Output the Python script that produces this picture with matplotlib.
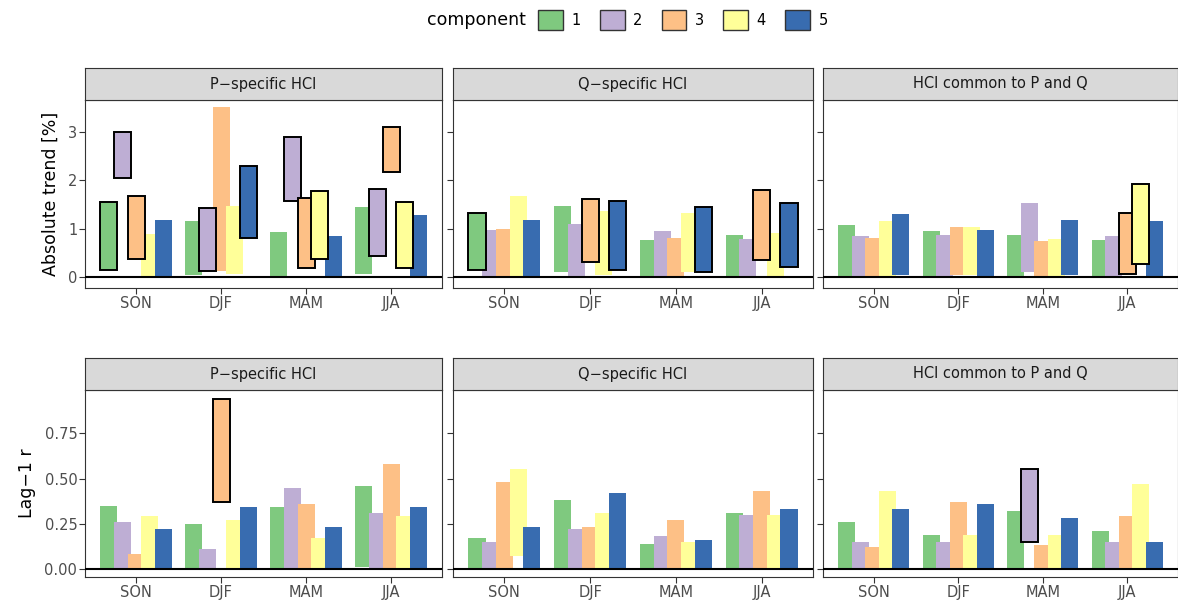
import numpy as np
import matplotlib.pyplot as plt
from matplotlib.patches import Patch

seasons = ['SON', 'DJF', 'MAM', 'JJA']
panels = ['P\u2212specific HCI', 'Q\u2212specific HCI', 'HCI common to P and Q']
components = ['1', '2', '3', '4', '5']
colors = ['#7fc97f', '#beaed4', '#fdc086', '#ffff99', '#386cb0']

# [panel][season][component] = (low, high, significant)
trend = [
    [[(0.15, 1.56, 1), (2.05, 3.0, 1), (0.38, 1.68, 1), (0.03, 0.9, 0), (0.03, 1.17, 0)],
     [(0.04, 1.16, 0), (0.12, 1.42, 1), (0.12, 3.5, 0), (0.07, 1.47, 0), (0.8, 2.3, 1)],
     [(0.0, 0.93, 0), (1.58, 2.88, 1), (0.2, 1.64, 1), (0.38, 1.77, 1), (0.0, 0.85, 0)],
     [(0.06, 1.45, 0), (0.44, 1.81, 1), (2.17, 3.09, 1), (0.2, 1.55, 1), (0.03, 1.29, 0)]],
    [[(0.15, 1.33, 1), (0.03, 0.98, 0), (0.0, 1.0, 0), (0.03, 1.68, 0), (0.03, 1.19, 0)],
     [(0.1, 1.46, 0), (0.03, 1.1, 0), (0.31, 1.61, 1), (0.05, 1.37, 0), (0.15, 1.58, 1)],
     [(0.0, 0.77, 0), (0.0, 0.96, 0), (0.0, 0.8, 0), (0.1, 1.32, 0), (0.1, 1.44, 1)],
     [(0.0, 0.87, 0), (0.0, 0.78, 0), (0.36, 1.8, 1), (0.0, 0.92, 0), (0.22, 1.53, 1)]],
    [[(0.03, 1.07, 0), (0.0, 0.85, 0), (0.0, 0.8, 0), (0.0, 1.16, 0), (0.05, 1.3, 0)],
     [(0.0, 0.95, 0), (0.0, 0.88, 0), (0.05, 1.04, 0), (0.05, 1.04, 0), (0.0, 0.98, 0)],
     [(0.0, 0.88, 0), (0.1, 1.54, 0), (0.0, 0.74, 0), (0.0, 0.78, 0), (0.05, 1.19, 0)],
     [(0.0, 0.76, 0), (0.0, 0.86, 0), (0.06, 1.32, 1), (0.27, 1.92, 1), (0.03, 1.15, 0)]],
]
lag1 = [
    [[(0, .35, 0), (0, .26, 0), (0, .08, 0), (0, .29, 0), (0, .22, 0)],
     [(0, .25, 0), (0, .11, 0), (.37, .94, 1), (0, .27, 0), (0, .34, 0)],
     [(0, .34, 0), (0, .45, 0), (0, .36, 0), (0, .17, 0), (0, .23, 0)],
     [(.01, .46, 0), (0, .31, 0), (0, .58, 0), (0, .29, 0), (0, .34, 0)]],
    [[(0, .17, 0), (0, .15, 0), (0, .48, 0), (.07, .55, 0), (0, .23, 0)],
     [(0, .38, 0), (0, .22, 0), (0, .23, 0), (0, .31, 0), (0, .42, 0)],
     [(0, .14, 0), (0, .18, 0), (0, .27, 0), (0, .15, 0), (0, .16, 0)],
     [(0, .31, 0), (0, .30, 0), (0, .43, 0), (0, .30, 0), (0, .33, 0)]],
    [[(0, .26, 0), (0, .15, 0), (0, .12, 0), (0, .43, 0), (0, .33, 0)],
     [(0, .19, 0), (0, .15, 0), (0, .37, 0), (0, .19, 0), (0, .36, 0)],
     [(0, .32, 0), (.15, .55, 1), (0, .13, 0), (0, .19, 0), (0, .28, 0)],
     [(0, .21, 0), (0, .15, 0), (0, .29, 0), (.005, .47, 0), (0, .15, 0)]],
]

W, H = 1178, 601
fig = plt.figure(figsize=(W / 100, H / 100), dpi=100)
txt = '#4d4d4d'
px = [(85, 442), (453, 813), (823, 1178)]
rows = [(100, 288, 68, trend, (-0.22, 3.65), [0, 1, 2, 3], ['0', '1', '2', '3'], 'Absolute trend [%]'),
        (390, 577, 358, lag1, (-0.045, 0.99), [0, .25, .5, .75], ['0.00', '0.25', '0.50', '0.75'], 'Lag\u22121 r')]
offs = np.linspace(-0.32, 0.32, 5)
bw = 0.2
for top, bot, stript, data, ylim, yt, ytl, ylab in rows:
    for p, (x0, x1) in enumerate(px):
        ax = fig.add_axes([x0 / W, 1 - bot / H, (x1 - x0) / W, (bot - top) / H])
        for s in range(4):
            for c in range(5):
                lo, hi, sig = data[p][s][c]
                ax.bar(s + offs[c], hi - lo, bottom=lo, width=bw, color=colors[c],
                       edgecolor='black' if sig else 'none', linewidth=1.4 if sig else 0,
                       zorder=3 if sig else 2)
        ax.axhline(0, color='black', lw=1.5, zorder=4)
        ax.set_xlim(-0.6, 3.6)
        ax.set_ylim(*ylim)
        ax.set_xticks(range(4))
        ax.set_xticklabels(seasons, fontsize=10.5, color=txt)
        ax.set_yticks(yt)
        if p == 0:
            ax.set_yticklabels(ytl, fontsize=10.5, color=txt)
            ax.set_ylabel(ylab, fontsize=12.5, labelpad=6)
        else:
            ax.set_yticklabels([])
        ax.tick_params(color='#333333', length=4, pad=1.5)
        for sp in ax.spines.values():
            sp.set_color('#333333')
        sax = fig.add_axes([x0 / W, 1 - top / H, (x1 - x0) / W, (top - stript) / H])
        sax.set_facecolor('#d9d9d9')
        sax.set_xticks([]); sax.set_yticks([])
        for sp in sax.spines.values():
            sp.set_color('#333333')
        sax.text(0.5, 0.5, panels[p], ha='center', va='center', fontsize=10.5,
                 color='#1a1a1a', transform=sax.transAxes)

handles = [Patch(facecolor=colors[c], edgecolor='#333333') for c in range(5)]
fig.text(427 / W, 1 - 20 / H, 'component', fontsize=12.5, ha='left', va='center')
fig.legend(handles, components, loc='center left', bbox_to_anchor=(538 / W, 1 - 20 / H),
           ncol=5, frameon=False, fontsize=10.5, borderpad=0, borderaxespad=0,
           handlelength=1.7, handleheight=1.7, columnspacing=1.3, handletextpad=0.6)
fig.savefig('out.png', dpi=100)
